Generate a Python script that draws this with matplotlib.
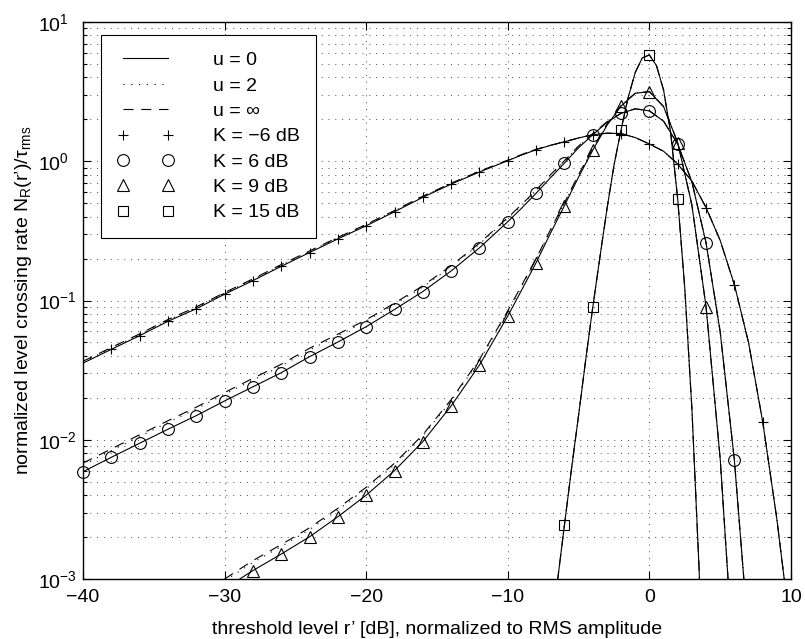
import matplotlib
matplotlib.use('Agg')
import matplotlib.pyplot as plt
from matplotlib.lines import Line2D
from matplotlib.ticker import NullFormatter

plt.rcParams['font.family'] = ['Liberation Sans', 'DejaVu Sans']
plt.rcParams['mathtext.fontset'] = 'custom'
plt.rcParams['mathtext.rm'] = 'Liberation Sans'
plt.rcParams['mathtext.it'] = 'Liberation Sans:italic'
plt.rcParams['mathtext.bf'] = 'Liberation Sans:bold'

# threshold level r' [dB] and normalized LCR for u = 0, 2, inf

# K = -6 dB
r_km6 = [-40, -38, -36, -34, -32, -30, -28, -26, -24, -22, -20, -18, -16, -14, -12, -10,
         -9, -8, -7, -6, -5, -4, -3, -2, -1, 0, 1, 2, 3, 4, 5, 6, 7, 8, 9, 10]
n_km6_u0 = [0.0355, 0.0446, 0.0559, 0.0709, 0.0873, 0.111, 0.139, 0.176, 0.221, 0.277,
            0.344, 0.434, 0.551, 0.685, 0.837, 1.01,
            1.11, 1.21, 1.30, 1.38, 1.47, 1.55, 1.59, 1.58, 1.48, 1.33, 1.18, 0.955,
            0.72, 0.465, 0.27, 0.13, 0.050, 0.0135, 0.0027, 0.0004]
n_km6_u2 = [0.0362, 0.0455, 0.0570, 0.0723, 0.0890, 0.113, 0.1415, 0.179, 0.225, 0.282,
            0.350, 0.440, 0.558, 0.693, 0.845, 1.015,
            1.115, 1.215, 1.30, 1.38, 1.47, 1.55, 1.59, 1.58, 1.48, 1.33, 1.18, 0.955,
            0.72, 0.465, 0.27, 0.13, 0.050, 0.0135, 0.0027, 0.0004]
n_km6_uinf = [0.0366, 0.0460, 0.0576, 0.0730, 0.0899, 0.114, 0.143, 0.181, 0.227, 0.284,
              0.352, 0.443, 0.561, 0.696, 0.848, 1.02,
              1.12, 1.22, 1.30, 1.38, 1.47, 1.55, 1.59, 1.58, 1.48, 1.33, 1.18, 0.955,
              0.72, 0.465, 0.27, 0.13, 0.050, 0.0135, 0.0027, 0.0004]

# K = 6 dB
r_k6 = [-40, -38, -36, -34, -32, -30, -28, -26, -24, -22, -20, -18, -16, -14, -12, -10,
        -9, -8, -7, -6, -5, -4, -3, -2, -1, 0, 1, 2, 3, 4, 5, 6, 7]
n_k6_u0 = [0.0059, 0.00748, 0.00944, 0.0119, 0.0149, 0.0190, 0.0240, 0.0303, 0.0395,
           0.0503, 0.0649, 0.0862, 0.116, 0.163, 0.239, 0.368,
           0.463, 0.589, 0.759, 0.97, 1.25, 1.55, 1.90, 2.21, 2.38, 2.30, 1.94, 1.33,
           0.71, 0.26, 0.0594, 0.00716, 0.00038]
n_k6_u2 = [0.0066, 0.00836, 0.01055, 0.0133, 0.01666, 0.02124, 0.02683, 0.03388, 0.04416,
           0.05583, 0.07107, 0.0937, 0.1252, 0.1746, 0.2543, 0.3886,
           0.4852, 0.6149, 0.7894, 1.001, 1.28, 1.575, 1.915, 2.21, 2.38, 2.30, 1.94, 1.33,
           0.71, 0.26, 0.0594, 0.00716, 0.00038]
n_k6_uinf = [0.0068, 0.0086, 0.01086, 0.01369, 0.01714, 0.02185, 0.0276, 0.03485, 0.0454,
             0.0573, 0.0727, 0.0957, 0.1276, 0.1777, 0.258, 0.394,
             0.491, 0.621, 0.797, 1.009, 1.288, 1.581, 1.919, 2.21, 2.38, 2.30, 1.94, 1.33,
             0.71, 0.26, 0.0594, 0.00716, 0.00038]

# K = 9 dB
r_k9 = [-30, -28, -26, -24, -22, -20, -18, -16, -14, -12, -10,
        -9, -8, -7, -6, -5, -4, -3, -2, -1, 0, 1, 2, 3, 4, 5, 6]
n_k9_u0 = [0.00085, 0.00115, 0.00151, 0.00201, 0.0028, 0.0040, 0.0060, 0.0097, 0.0175,
           0.0344, 0.0774,
           0.120, 0.187, 0.302, 0.480, 0.771, 1.20, 1.81, 2.49, 3.08, 3.16, 2.47, 1.36,
           0.485, 0.0902, 0.0073, 0.0002]
n_k9_u2 = [0.000971, 0.001313, 0.001712, 0.002263, 0.00313, 0.004444, 0.006618, 0.01062,
           0.01902, 0.03712, 0.0829,
           0.1277, 0.1975, 0.3165, 0.4992, 0.7957, 1.229, 1.839, 2.51, 3.08, 3.16, 2.47,
           1.36, 0.485, 0.0902, 0.0073, 0.0002]
n_k9_uinf = [0.00100, 0.001357, 0.001767, 0.002332, 0.00322, 0.00456, 0.00678, 0.01086,
             0.01943, 0.03784, 0.08437,
             0.1296, 0.2001, 0.3201, 0.504, 0.8018, 1.236, 1.846, 2.515, 3.08, 3.16, 2.47,
             1.36, 0.485, 0.0902, 0.0073, 0.0002]

# K = 15 dB (the three u curves coincide)
r_k15 = [-7, -6.5, -6, -5.5, -5, -4.5, -4, -3.5, -3, -2.5, -2, -1.5, -1, -0.5,
         0, 0.5, 1, 1.5, 2, 2.5, 3, 3.5, 4]
n_k15_u0 = [0.0004, 0.00095, 0.00244, 0.0062, 0.0150, 0.0374, 0.0893, 0.203, 0.452,
            0.937, 1.69, 2.87, 4.34, 5.53, 5.80, 4.86, 3.25, 1.61, 0.533, 0.122, 0.0168,
            0.00124, 0.00005]
n_k15_u2 = n_k15_u0
n_k15_uinf = n_k15_u0

# first threshold carrying a marker, per K
marker_start = [-38, -40, -30, -8]

u_labels = ['u = 0', 'u = 2', 'u = ∞']
k_labels = ['K = −6 dB', 'K = 6 dB', 'K = 9 dB', 'K = 15 dB']
x_ticks = [-40, -30, -20, -10, 0, 10]
x_ticklabels = ['−40', '−30', '−20', '−10', '0', '10']
y_ticks = [1e-3, 1e-2, 1e-1, 1e0, 1e1]
y_ticklabels = ['$10^{-3}$', '$10^{-2}$', '$10^{-1}$', '$10^{0}$', '$10^{1}$']

FS = 14
LW = 0.8
styles = ['-', (0, (1, 6)), (0, (9, 7))]
markers = [('+', 7), ('o', 8.5), ('^', 9), ('s', 7.5)]

fig = plt.figure(figsize=(8.05, 6.39), dpi=100)
ax = fig.add_axes([83 / 805, 1 - 579 / 639, 708 / 805, 557 / 639])

curves = [
    (r_km6, [n_km6_u0, n_km6_u2, n_km6_uinf]),
    (r_k6, [n_k6_u0, n_k6_u2, n_k6_uinf]),
    (r_k9, [n_k9_u0, n_k9_u2, n_k9_uinf]),
    (r_k15, [n_k15_u0, n_k15_u2, n_k15_uinf]),
]

for (r, ns), (mk, ms), r0 in zip(curves, markers, marker_start):
    for n, ls in zip(ns, styles):
        ax.plot(r, n, color='k', lw=LW, linestyle=ls)
    # markers every 2 dB on the u = 0 curve
    pts = [(x, y) for x, y in zip(r, ns[0]) if x % 2 == 0 and x >= r0 and y >= 1e-3]
    ax.plot([p[0] for p in pts], [p[1] for p in pts], linestyle='none', marker=mk,
            ms=ms, mfc='none', mec='k', mew=LW, clip_on=False, zorder=3)

ax.set_yscale('log')
ax.set_xlim(-40, 10)
ax.set_ylim(1e-3, 1e1)
ax.set_xticks(x_ticks)
ax.set_xticklabels(x_ticklabels)
ax.set_yticks(y_ticks)
ax.set_yticklabels(y_ticklabels)
ax.yaxis.set_minor_formatter(NullFormatter())

ax.tick_params(which='both', direction='in', top=True, right=True, width=LW,
               labelsize=FS)
ax.tick_params(axis='x', which='major', length=6, pad=7)
# decade labels start at a common left edge, exponent hangs to the right
ax.tick_params(axis='y', which='major', length=6, pad=32.5)
for lab in ax.get_yticklabels():
    lab.set_horizontalalignment('left')
ax.tick_params(axis='y', which='minor', length=3)
for sp in ax.spines.values():
    sp.set_linewidth(1.0)

grid_kw = dict(color='0.3', linewidth=0.7, linestyle=(0, (1, 6)))
ax.grid(True, which='major', **grid_kw)
ax.yaxis.grid(True, which='minor', **grid_kw)
ax.set_axisbelow(True)

ax.set_xlabel('threshold level r’ [dB], normalized to RMS amplitude', fontsize=FS,
              labelpad=11)
ax.set_ylabel('normalized level crossing rate N$_\\mathregular{R}$(r’)/τ$_\\mathregular{rms}$',
              fontsize=FS)
ax.yaxis.set_label_coords(-0.069, 0.5)

handles = [Line2D([], [], color='k', lw=LW, linestyle=ls) for ls in styles]
handles += [Line2D([], [], linestyle='none', marker=mk, ms=ms, mfc='none', mec='k', mew=LW)
            for mk, ms in markers]
leg = ax.legend(handles, u_labels + k_labels, loc='upper left',
                bbox_to_anchor=(18 / 708, 1 - 13 / 557), borderaxespad=0,
                numpoints=2, handlelength=2.9, handletextpad=2.0, labelspacing=0.4,
                borderpad=0.85, fancybox=False, framealpha=1, edgecolor='k',
                fontsize=FS)
leg.get_frame().set_linewidth(LW)

fig.savefig('out.png', dpi=100)
